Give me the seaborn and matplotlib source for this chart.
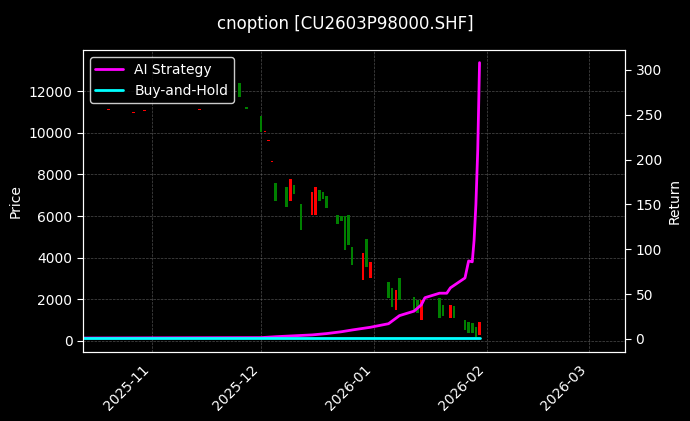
import pandas as pd
import numpy as np
import matplotlib.pyplot as plt
import matplotlib.dates as mdates
import seaborn as sns

# candles: date, open, close (Chinese colours: red up, green down)
candle_dates = ["2025-10-20", "2025-10-27", "2025-10-30", "2025-11-14", "2025-11-25", "2025-11-27",
                "2025-12-01", "2025-12-02", "2025-12-03", "2025-12-04", "2025-12-05", "2025-12-08",
                "2025-12-09", "2025-12-10", "2025-12-12", "2025-12-15", "2025-12-16", "2025-12-17",
                "2025-12-18", "2025-12-19", "2025-12-22", "2025-12-23", "2025-12-24", "2025-12-25",
                "2025-12-26", "2025-12-29", "2025-12-30", "2025-12-31", "2026-01-05", "2026-01-06",
                "2026-01-07", "2026-01-08", "2026-01-12", "2026-01-13", "2026-01-14", "2026-01-19",
                "2026-01-20", "2026-01-22", "2026-01-23", "2026-01-26", "2026-01-27", "2026-01-28",
                "2026-01-29", "2026-01-30"]
opens = [11100, 10950, 11050, 11100, 12400, 11250,
         10800, 10050, 9600, 8600, 7600, 7400,
         6700, 7500, 6600, 6050, 6050, 7250,
         7150, 6970, 6060, 6000, 6010, 6060,
         4520, 2940, 4900, 3030, 2840, 2550,
         1490, 3030, 2110, 1970, 1010, 2070,
         1730, 1110, 1680, 1010, 910, 870,
         670, 290]
closes = [11150, 11000, 11100, 11150, 11700, 11150,
          10050, 10100, 9650, 8650, 6730, 6450,
          7800, 7050, 5340, 7150, 7400, 6720,
          6820, 6390, 5620, 5770, 4380, 4620,
          3650, 4230, 3560, 3800, 2070, 1630,
          2450, 1970, 1490, 1350, 1970, 1110,
          1200, 1730, 1110, 530, 380, 380,
          190, 910]

# returns series
ret_dates = ["2025-10-13 00:00", "2025-12-01 00:00", "2025-12-05 00:00", "2025-12-10 00:00",
             "2025-12-15 00:00", "2025-12-19 00:00", "2025-12-23 00:00", "2025-12-26 00:00",
             "2025-12-31 00:00", "2026-01-05 00:00", "2026-01-06 00:00", "2026-01-08 00:00",
             "2026-01-12 00:00", "2026-01-14 00:00", "2026-01-15 00:00", "2026-01-19 00:00",
             "2026-01-21 00:00", "2026-01-22 00:00", "2026-01-26 00:00", "2026-01-27 00:00",
             "2026-01-28 00:00", "2026-01-28 12:00", "2026-01-29 00:00", "2026-01-29 12:00",
             "2026-01-30 00:00"]
ai_ret = [1, 1.5, 2.5, 3.5, 4.5, 6,
          8, 10, 13, 17, 20, 26,
          31, 38, 46, 51, 51, 57,
          68, 87, 86, 110, 150, 210, 308]
bh_ret = [1] * len(ret_dates)

sns.set_style("dark")
plt.rcParams["font.family"] = ["DejaVu Sans"]
fig, ax = plt.subplots(figsize=(6.9, 4.21), dpi=100, facecolor="black")
fig.subplots_adjust(left=0.12, right=0.906, top=0.881, bottom=0.164)
ax.set_facecolor("black")

cd = pd.to_datetime(candle_dates)
o = np.array(opens)
c = np.array(closes)
colors = np.where(c >= o, "red", "green")
h = np.abs(c - o)
h = np.where(h < 60, 40, h)
ax.bar(cd, h, bottom=np.minimum(o, c), width=0.7, color=colors, linewidth=0)
ax.set_ylim(-530, 13970)
ax.set_ylabel("Price", color="white")

ax2 = ax.twinx()
df = pd.DataFrame({"date": pd.to_datetime(ret_dates), "AI Strategy": ai_ret, "Buy-and-Hold": bh_ret})
sns.lineplot(data=df, x="date", y="AI Strategy", ax=ax2, color="magenta", lw=2, label="AI Strategy")
sns.lineplot(data=df, x="date", y="Buy-and-Hold", ax=ax2, color="cyan", lw=2, label="Buy-and-Hold")
ax2.set_ylim(-14.5, 322)
ax2.set_ylabel("Return", color="white")
ax2.set_xlabel("")
ax.set_xlim(pd.Timestamp("2025-10-13"), pd.Timestamp("2026-03-11"))

for a in (ax, ax2):
    a.tick_params(colors="white", which="both", length=4)
    for s in a.spines.values():
        s.set_color("white")
        s.set_visible(True)
ax.grid(True, color="gray", ls="--", lw=0.5, alpha=0.6)
ax.xaxis.set_major_locator(mdates.MonthLocator())
ax.xaxis.set_major_formatter(mdates.DateFormatter("%Y-%m"))
plt.setp(ax.get_xticklabels(), rotation=45, ha="right")

leg = ax2.legend(loc="upper left", facecolor="black", edgecolor="white", labelcolor="white")
fig.suptitle("cnoption [CU2603P98000.SHF]", color="white", fontsize=12, y=0.965)
fig.savefig("out.png", facecolor="black")
